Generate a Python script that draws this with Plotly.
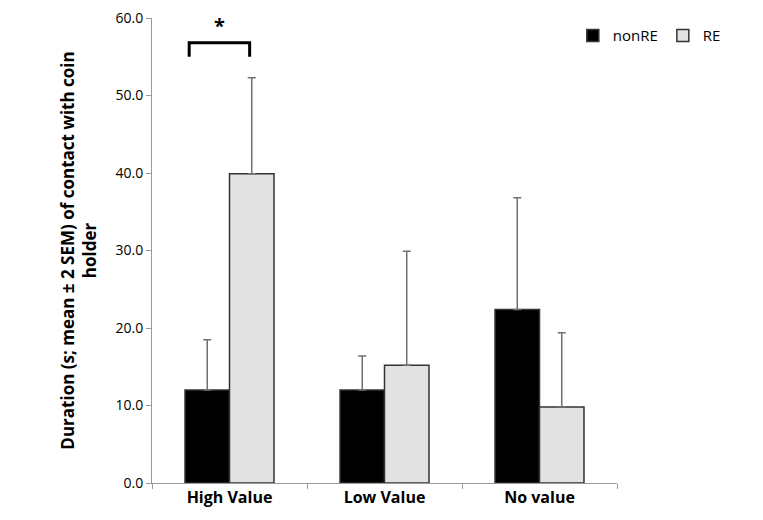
import plotly.graph_objects as go

categories = ["High Value", "Low Value", "No value"]
nonre_mean = [12.0, 12.0, 22.4]
nonre_err = [6.5, 4.4, 14.4]
re_mean = [39.9, 15.2, 9.8]
re_err = [12.4, 14.7, 9.6]
y_ticks = [0, 10, 20, 30, 40, 50, 60]

font_family = "Open Sans, Lato, sans-serif"

fig = go.Figure()
fig.add_trace(go.Bar(
    name="nonRE", x=categories, y=nonre_mean,
    marker=dict(color="#000000", line=dict(color="#333333", width=1.5)),
    error_y=dict(type="data", array=nonre_err, arrayminus=[0]*3, symmetric=False,
                 color="#707070", thickness=1.5, width=4),
))
fig.add_trace(go.Bar(
    name="RE", x=categories, y=re_mean,
    marker=dict(color="#e2e2e2", line=dict(color="#333333", width=1.5)),
    error_y=dict(type="data", array=re_err, arrayminus=[0]*3, symmetric=False,
                 color="#707070", thickness=1.5, width=4),
))

# significance bracket
fig.add_shape(type="path", xref="x", yref="y",
              path="M -0.26,55.0 L -0.26,56.8 L 0.13,56.8 L 0.13,55.0",
              line=dict(color="black", width=3))
fig.add_annotation(x=-0.065, y=59.0, xref="x", yref="y", text="<b>*</b>",
                   showarrow=False, font=dict(size=20, color="black", family=font_family))

# page body has an 8px margin; compensate so the plot lands where the reference has it
fig.update_layout(
    width=755, height=512,
    margin=dict(l=144, r=146, t=10, b=37),
    plot_bgcolor="white", paper_bgcolor="white",
    barmode="group", bargap=0.426, bargroupgap=0,
    font=dict(family=font_family, color="black", size=13),
    legend=dict(orientation="h", x=0.905, y=0.962, xanchor="left", yanchor="middle",
                font=dict(size=15), itemwidth=30, traceorder="normal", tracegroupgap=0),
    xaxis=dict(showline=True, linecolor="#999999", linewidth=1, automargin=False,
               ticks="outside", tickson="boundaries", ticklen=5, tickcolor="#999999",
               tickfont=dict(size=16, family=font_family)),
    yaxis=dict(range=[0, 60], tickvals=y_ticks, tickformat=".1f", automargin=False,
               ticklabeloverflow="allow",
               showline=True, linecolor="#999999", linewidth=1, showgrid=False,
               ticks="outside", ticklen=5, tickcolor="#999999",
               tickfont=dict(size=14), zeroline=False,
               title=dict(text="<b>Duration (s; mean ± 2 SEM) of contact with coin<br>holder</b>",
                          font=dict(size=17), standoff=14)),
)
fig.update_xaxes(tickvals=categories, ticktext=["<b>%s</b>" % c for c in categories])

fig.write_html("out.html")
